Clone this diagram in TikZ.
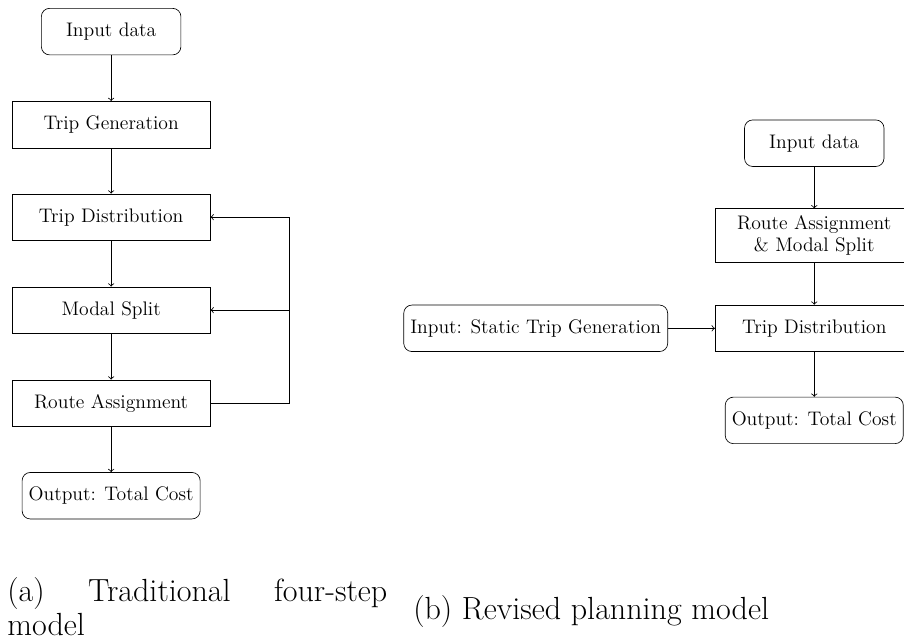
\documentclass[tikz,border=0pt]{standalone}
\usepackage{amsmath}
\usepackage{xcolor}
\usetikzlibrary{positioning}

\begin{document}
\begin{tikzpicture}[
  stepbox/.style={draw, minimum width=4.26cm, minimum height=1cm, align=center,
    inner sep=4pt, font=\fontsize{12}{13.6}\selectfont},
  endbox/.style={stepbox, rounded corners=5pt, minimum width=0pt},
  flow/.style={->, line width=0.5pt},
  caption/.style={inner sep=0pt, font=\fontsize{19.6}{21}\selectfont}
]
\useasboundingbox (0,0) rectangle (19.44,-13.81);
\begin{scope}
\clip (0,0) rectangle (19.44,-13.81);

% Left-hand model
\node[endbox, minimum width=3cm] (inleft) at (2.39,-0.68) {Input data};
\node[stepbox] (tripgen) at (2.39,-2.68) {Trip Generation};
\node[stepbox] (tripdist) at (2.39,-4.67) {Trip Distribution};
\node[stepbox] (modal) at (2.39,-6.67) {Modal Split};
\node[stepbox] (route) at (2.39,-8.67) {Route Assignment};
\node[endbox] (outleft) at (2.39,-10.66) {Output: Total Cost};

\draw[flow] (inleft) -- (tripgen);
\draw[flow] (tripgen) -- (tripdist);
\draw[flow] (tripdist) -- (modal);
\draw[flow] (modal) -- (route);
\draw[flow] (route) -- (outleft);

% feedback loop
\coordinate (loop) at (6.22,-8.67);
\draw[flow] (route.east) -- (loop) |- (tripdist.east);
\draw[flow] (loop |- modal.east) -- (modal.east);

% Right-hand model
\node[endbox, minimum width=3cm] (inright) at (17.51,-3.08) {Input data};
\node[stepbox, minimum height=1.14cm] (routemodal) at (17.51,-5.06) {Route Assignment\\ \& Modal Split};
\node[stepbox] (tripdistb) at (17.51,-7.06) {Trip Distribution};
\node[endbox] (outright) at (17.51,-9.04) {Output: Total Cost};
\node[endbox] (static) at (11.52,-7.06) {Input: Static Trip Generation};

\draw[flow] (inright) -- (routemodal);
\draw[flow] (routemodal) -- (tripdistb);
\draw[flow] (tripdistb) -- (outright);
\draw[flow] (static) -- (tripdistb);
\end{scope}

% captions
\node[caption, anchor=base west, text width=8.17cm, align=justify] (capa) at (0.15,-12.93)
  {(a)\hfill Traditional\hfill four-step\\ model};
\node[caption, anchor=base west] (capb) at (8.88,-13.32)
  {(b) Revised planning model};
\end{tikzpicture}
\end{document}
